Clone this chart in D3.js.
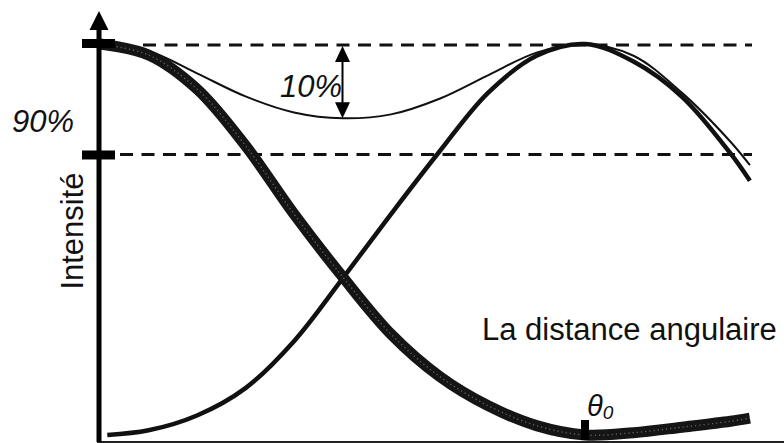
<!DOCTYPE html>
<html>
<head>
<meta charset="utf-8">
<script src="https://cdn.jsdelivr.net/npm/d3@7"></script>
<style>
  html, body { margin: 0; padding: 0; background: #fff; }
  svg { display: block; }
  text { font-family: "Liberation Sans", Arial, sans-serif; fill: #111; }
</style>
</head>
<body>
<div id="chart"></div>
<script>
// angular distance in units of theta0
const uStar1 = [0, 0.1, 0.2, 0.3, 0.4, 0.5, 0.6, 0.7, 0.8, 0.9, 1.0, 1.1, 1.2, 1.3, 1.34];
const star1  = [1.0, 0.972, 0.885, 0.74, 0.565, 0.405, 0.258, 0.15, 0.075, 0.024, 0.0, 0.006, 0.02, 0.035, 0.043];

const uStar2 = [0.015, 0.1, 0.2, 0.3, 0.4, 0.5, 0.6, 0.7, 0.8, 0.9, 1.0, 1.1, 1.2, 1.3, 1.34];
const star2  = [0.0, 0.012, 0.05, 0.12, 0.24, 0.40, 0.565, 0.725, 0.875, 0.97, 1.0, 0.955, 0.865, 0.72, 0.65];

const uSum = [0, 0.1, 0.2, 0.3, 0.4, 0.5, 0.6, 0.7, 0.8, 0.9, 1.0, 1.1, 1.2, 1.3, 1.34];
const sum  = [1.0, 0.982, 0.925, 0.866, 0.825, 0.81, 0.82, 0.86, 0.92, 0.978, 1.0, 0.97, 0.875, 0.75, 0.69];

const levels = [1, 0.72];          // dashed reference levels
const levelLabel = '90%';
const dipU = 0.5, dipValue = 0.81; // double arrow
const dipLabel = '10%';
const theta0 = 1;

(function() {
  const W = 784, H = 443;
  const x = d3.scaleLinear().domain([0, 1]).range([100, 585]);
  const y = d3.scaleLinear().domain([0, 1]).range([435, 44]);

  const svg = d3.select('#chart').append('svg').attr('width', W).attr('height', H);

  const line = d3.line().x(d => x(d[0])).y(d => y(d[1])).curve(d3.curveCatmullRom.alpha(0.5));
  const zip = (a, b) => a.map((v, i) => [v, b[i]]);

  // dashed reference lines
  svg.selectAll('.lvl').data(levels).join('line').attr('class', 'lvl')
    .attr('x1', (d, i) => i === 0 ? 143 : 120).attr('x2', 752)
    .attr('y1', d => y(d) + 1).attr('y2', d => y(d) + 1)
    .attr('stroke', '#111').attr('stroke-width', 3).attr('stroke-dasharray', '13,8.5');

  // bottom baseline
  svg.append('line').attr('x1', 97).attr('x2', 784).attr('y1', 442).attr('y2', 442)
    .attr('stroke', '#222').attr('stroke-width', 2);

  // second star
  svg.append('path').attr('d', line(zip(uStar2, star2)))
    .attr('fill', 'none').attr('stroke', '#111').attr('stroke-width', 4.5);

  // sum curve (thin)
  svg.append('path').attr('d', line(zip(uSum, sum)))
    .attr('fill', 'none').attr('stroke', '#111').attr('stroke-width', 2);

  // first star (thick, stippled)
  const p1 = line(zip(uStar1, star1));
  svg.append('path').attr('d', p1)
    .attr('fill', 'none').attr('stroke', '#151515').attr('stroke-width', 11);
  svg.append('path').attr('d', p1)
    .attr('fill', 'none').attr('stroke', '#8a8a8a').attr('stroke-width', 1.3)
    .attr('stroke-dasharray', '1.2,3').attr('opacity', 0.7);

  // y axis with arrow
  svg.append('line').attr('x1', 99).attr('x2', 99).attr('y1', 442).attr('y2', 26)
    .attr('stroke', '#000').attr('stroke-width', 5);
  svg.append('path').attr('d', 'M99,11 L89.5,30 L108.5,30 Z').attr('fill', '#000');

  // level tick bars
  svg.selectAll('.bar').data(levels).join('rect').attr('class', 'bar')
    .attr('x', 82).attr('width', 33)
    .attr('y', d => y(d) - 4 + (d < 1 ? 1 : -1)).attr('height', 9)
    .attr('fill', '#000');

  // theta0 tick
  svg.append('rect').attr('x', x(theta0) - 4).attr('width', 8)
    .attr('y', 420).attr('height', 20).attr('fill', '#000');

  // double arrow for the dip
  const ax = x(dipU), ay1 = y(1) + 2, ay2 = y(dipValue);
  svg.append('line').attr('x1', ax).attr('x2', ax).attr('y1', ay1 + 10).attr('y2', ay2 - 10)
    .attr('stroke', '#000').attr('stroke-width', 2);
  svg.append('path').attr('d', `M${ax},${ay1} L${ax - 7.5},${ay1 + 16} L${ax + 7.5},${ay1 + 16} Z`).attr('fill', '#000');
  svg.append('path').attr('d', `M${ax},${ay2} L${ax - 7.5},${ay2 - 16} L${ax + 7.5},${ay2 - 16} Z`).attr('fill', '#000');

  // texts
  svg.append('text').attr('x', 280).attr('y', 97)
    .style('font-size', '31px').style('font-style', 'italic').text(dipLabel);
  svg.append('text').attr('x', 12).attr('y', 132)
    .style('font-size', '31px').style('font-style', 'italic').text(levelLabel);
  svg.append('text').attr('transform', 'translate(83,231) rotate(-90)')
    .attr('text-anchor', 'middle').style('font-size', '31px').text('Intensité');
  svg.append('text').attr('x', 482).attr('y', 340)
    .style('font-size', '31px').text('La distance angulaire');

  const th = svg.append('text').attr('x', 587).attr('y', 416)
    .style('font-size', '29px').style('font-style', 'italic');
  th.append('tspan').text('θ');
  th.append('tspan').attr('dy', 3).style('font-size', '19px').text('0');
})();
</script>
</body>
</html>
